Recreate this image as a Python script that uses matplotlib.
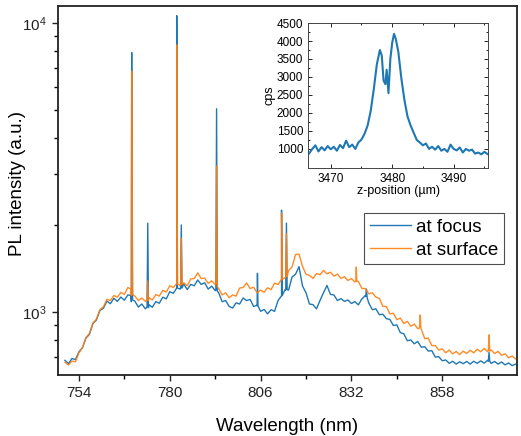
import numpy as np
import matplotlib
matplotlib.use('Agg')
import matplotlib.pyplot as plt
from matplotlib.ticker import FixedLocator, FixedFormatter, NullFormatter

plt.rcParams['font.family'] = ['Liberation Sans', 'DejaVu Sans']

# ---- main spectra: 1 nm grid ----
wl_grid = list(range(750, 880))

focus_base = [
    680, 662, 690, 684, 728, 752, 812, 836, 912, 938,          # 750-759
    1012, 1030, 1090, 1068, 1115, 1088, 1126, 1098, 1145, 1085,  # 760-769
    1090, 1040, 1065, 1025, 1060, 1038, 1085, 1072, 1125, 1110,  # 770-779
    1175, 1160, 1215, 1200, 1250, 1195, 1245, 1232, 1290, 1245,  # 780-789
    1262, 1200, 1228, 1185, 1165, 1085, 1095, 1045, 1032, 1075,  # 790-799
    1065, 1118, 1095, 1105, 1045, 1055, 1005, 1020, 985, 1018,   # 800-809
    1005, 1095, 1135, 1195, 1190, 1320, 1350, 1435, 1230, 1165,  # 810-819
    1065, 1060, 1025, 1095, 1165, 1235, 1150, 1145, 1095, 1112,  # 820-829
    1088, 1100, 1070, 1085, 1058, 1110, 1140, 1072, 1018, 1025,  # 830-839
    978, 982, 948, 942, 898, 902, 848, 840, 795, 800,            # 840-849
    776, 790, 755, 758, 732, 735, 698, 700, 678, 682,            # 850-859
    664, 675, 660, 672, 662, 674, 660, 675, 664, 677,            # 860-869
    665, 680, 664, 674, 660, 671, 656, 666, 652, 660,            # 870-879
]

surface_base = [
    670, 655, 676, 672, 722, 752, 815, 842, 915, 945,
    1018, 1042, 1105, 1095, 1140, 1125, 1168, 1150, 1215, 1140,
    1135, 1095, 1118, 1088, 1122, 1100, 1148, 1135, 1188, 1172,
    1232, 1215, 1255, 1235, 1262, 1232, 1300, 1305, 1365, 1305,
    1310, 1255, 1282, 1245, 1205, 1145, 1165, 1120, 1145, 1135,
    1210, 1215, 1260, 1205, 1218, 1165, 1190, 1170, 1212, 1195,
    1258, 1245, 1305, 1315, 1390, 1430, 1580, 1585, 1440, 1350,
    1338, 1305, 1358, 1345, 1392, 1355, 1372, 1330, 1352, 1305,
    1325, 1285, 1305, 1270, 1275, 1205, 1205, 1155, 1165, 1125,
    1115, 1045, 1045, 985, 990, 940, 952, 912, 928, 892,
    908, 875, 872, 808, 812, 765, 765, 738, 745, 722,
    738, 716, 730, 712, 732, 718, 737, 722, 743, 728,
    748, 728, 738, 718, 730, 708, 716, 694, 704, 688,
]

# narrow emission lines (shoulder, peak, shoulder)
focus_spike_wl = [768.85, 769.1, 769.35, 773.5, 773.7, 773.9, 781.8, 782.0, 782.2,
                  783.1, 783.3, 783.5, 793.2, 793.4, 793.6, 805.0, 805.1, 805.25,
                  811.8, 812.0, 812.2, 813.2, 813.4, 813.6, 836.1, 836.3, 836.5,
                  871.2, 871.4, 871.6]
focus_spike_val = [1140, 7900, 1100, 1040, 2030, 1035, 1200, 10600, 1210,
                   1205, 2000, 1210, 1190, 5050, 1180, 1050, 1360, 1050,
                   1130, 2250, 1140, 1190, 2030, 1195, 1130, 1200, 1120,
                   675, 725, 675]

surface_spike_wl = [768.85, 769.1, 769.35, 773.5, 773.7, 773.9, 781.8, 782.0, 782.2,
                    783.1, 783.3, 783.5, 793.2, 793.4, 793.6, 811.8, 812.0, 812.2,
                    813.2, 813.4, 813.6, 833.25, 833.4, 833.55, 851.5, 851.7, 851.9,
                    871.2, 871.4, 871.6]
surface_spike_val = [1200, 6800, 1150, 1095, 1280, 1095, 1245, 8400, 1250,
                     1240, 1800, 1245, 1250, 3200, 1220, 1285, 2200, 1295,
                     1320, 1870, 1325, 1275, 1430, 1275, 880, 976, 878,
                     735, 833, 732]

# ---- inset: z-scan ----
z_pos = [3466.5, 3467.0, 3467.5, 3468.0, 3468.5, 3469.0, 3469.5, 3470.0, 3470.5, 3471.0,
         3471.5, 3472.0, 3472.5, 3473.0, 3473.5, 3474.0, 3474.5, 3475.0, 3475.5, 3476.0,
         3476.5, 3477.0, 3477.5, 3478.0, 3478.3, 3478.6, 3478.9, 3479.1, 3479.4, 3479.7,
         3480.0, 3480.3, 3480.6, 3481.0, 3481.5, 3482.0, 3482.5, 3483.0, 3483.5, 3484.0,
         3484.5, 3485.0, 3485.5, 3486.0, 3486.5, 3487.0, 3487.5, 3488.0, 3488.5, 3489.0,
         3489.5, 3490.0, 3490.5, 3491.0, 3491.5, 3492.0, 3492.5, 3493.0, 3493.5, 3494.0,
         3494.5, 3495.0, 3495.5]
z_cps = [880, 1000, 1100, 930, 1050, 960, 1080, 990, 1060, 950,
         1110, 1020, 1230, 1050, 1120, 1000, 1180, 1260, 1420, 1650,
         2050, 2650, 3350, 3750, 3600, 2900, 2800, 3200, 2550, 3500,
         3950, 4200, 4050, 3700, 2950, 2350, 1900, 1650, 1450, 1250,
         1180, 1100, 1150, 1000, 1060, 980, 1080, 950, 1000, 920,
         1120, 1000, 960, 1040, 900, 1000, 950, 980, 870, 900,
         850, 920, 860]

x_ticks = [754, 780, 806, 832, 858]


def merge(base_wl, base_val, sp_wl, sp_val):
    w = np.array(list(base_wl) + list(sp_wl), dtype=float)
    v = np.array(list(base_val) + list(sp_val), dtype=float)
    order = np.argsort(w, kind='stable')
    return w[order], v[order]


def main():
    fig = plt.figure(figsize=(5.21, 4.36), dpi=100)
    ax = fig.add_axes([0.1113, 0.1399, 0.881, 0.8463])

    wf, vf = merge(wl_grid, focus_base, focus_spike_wl, focus_spike_val)
    ws, vs = merge(wl_grid, surface_base, surface_spike_wl, surface_spike_val)
    ax.plot(wf, vf, color='#1f77b4', lw=1.0, label='at focus')
    ax.plot(ws, vs, color='#ff7f0e', lw=1.0, alpha=0.9, label='at surface')

    ax.set_yscale('log')
    ax.set_xlim(748, 879.4)
    ax.set_ylim(605, 11450)
    ax.xaxis.set_major_locator(FixedLocator(x_ticks))
    ax.xaxis.set_minor_locator(FixedLocator([767, 793, 819, 845, 871]))
    ax.yaxis.set_major_locator(FixedLocator([1e3, 1e4]))
    ax.yaxis.set_major_formatter(FixedFormatter([r'$\mathregular{10^3}$', r'$\mathregular{10^4}$']))
    ax.yaxis.set_minor_locator(FixedLocator([600, 700, 800, 900] + [k * 1000 for k in range(2, 10)]))
    ax.yaxis.set_minor_formatter(NullFormatter())
    ax.tick_params(which='major', direction='out', length=4.5, width=1, labelsize=11, colors='#222222')
    ax.tick_params(which='minor', direction='out', length=2.8, width=1)
    for s in ax.spines.values():
        s.set_linewidth(1.3)
        s.set_color('#222222')
    ax.set_xlabel('Wavelength (nm)', fontsize=13.5, labelpad=13)
    ax.set_ylabel('PL intensity (a.u.)', fontsize=13.5)
    ax.yaxis.set_label_coords(-0.07, 0.52)

    leg = ax.legend(loc='upper left', bbox_to_anchor=(364 / 521, 1 - 213 / 436),
                    bbox_transform=fig.transFigure, fontsize=13.5, frameon=True,
                    fancybox=False, borderaxespad=0, borderpad=0.3, handlelength=2.2,
                    handletextpad=0.3, labelspacing=0.3)
    leg.get_frame().set_edgecolor('#222222')
    leg.get_frame().set_linewidth(0.8)

    # inset
    axi = fig.add_axes([0.5912, 0.6147, 0.3455, 0.3325])
    axi.plot(z_pos, z_cps, color='#1f77b4', lw=1.5)
    axi.set_xlim(3466.3, 3495.6)
    axi.set_ylim(470, 4500)
    axi.set_xticks([3470, 3480, 3490])
    axi.set_yticks([1000, 1500, 2000, 2500, 3000, 3500, 4000, 4500])
    axi.set_xticks([3475, 3485, 3495], minor=True)
    axi.set_yticks([1250, 1750, 2250, 2750, 3250, 3750, 4250], minor=True)
    axi.tick_params(which='both', direction='in', top=True, right=True, labelsize=8.5, width=0.6)
    axi.tick_params(which='major', length=3)
    axi.tick_params(which='minor', length=1.5)
    for s in axi.spines.values():
        s.set_linewidth(0.7)
        s.set_color('#444444')
    axi.set_xlabel('z-position (\u00b5m)', fontsize=9, labelpad=0)
    axi.set_ylabel('cps', fontsize=9, labelpad=1)

    fig.savefig('out.png', dpi=100)


if __name__ == '__main__': main()
